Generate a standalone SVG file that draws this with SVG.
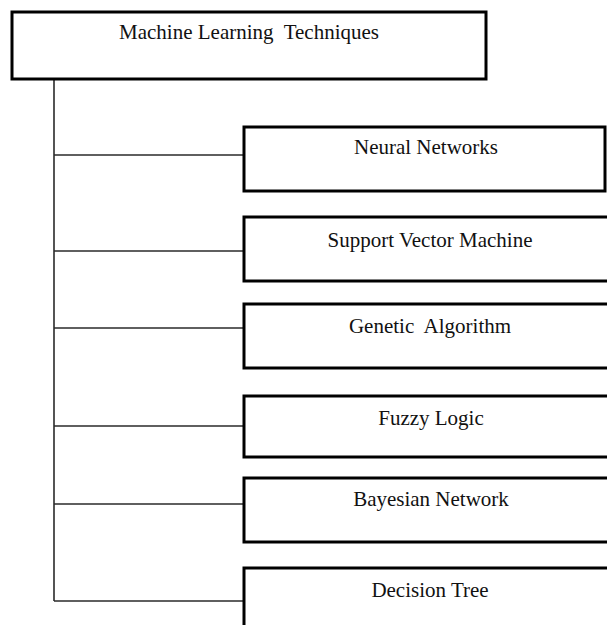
<svg xmlns="http://www.w3.org/2000/svg" width="607" height="625" viewBox="0 0 607 625">
  <style>
    .box { fill: #ffffff; stroke: #000000; stroke-width: 3; }
    .wire { stroke: #2a2a2a; stroke-width: 1.6; fill: none; }
    .label { font-family: "Liberation Serif", "Times New Roman", serif; font-size: 21px; fill: #111111; text-anchor: middle; }
  </style>
  <rect width="607" height="625" fill="#ffffff"/>

  <!-- connectors: trunk from root and one branch per technique -->
  <g id="connectors">
    <line class="wire" x1="54" y1="79" x2="54" y2="601"/>
    <line class="wire" x1="54" y1="155" x2="244" y2="155"/>
    <line class="wire" x1="54" y1="251" x2="244" y2="251"/>
    <line class="wire" x1="54" y1="328" x2="244" y2="328"/>
    <line class="wire" x1="54" y1="426" x2="244" y2="426"/>
    <line class="wire" x1="54" y1="504" x2="244" y2="504"/>
    <line class="wire" x1="54" y1="601" x2="244" y2="601"/>
  </g>

  <g id="root">
    <rect class="box" x="12" y="12" width="474" height="67"/>
    <text class="label" x="249" y="39" xml:space="preserve">Machine Learning  Techniques</text>
  </g>

  <g id="neural-networks">
    <rect class="box" x="244" y="127" width="361" height="64"/>
    <text class="label" x="426" y="154">Neural Networks</text>
  </g>

  <g id="support-vector-machine">
    <rect class="box" x="244" y="217" width="380" height="64"/>
    <text class="label" x="430" y="247">Support Vector Machine</text>
  </g>

  <g id="genetic-algorithm">
    <rect class="box" x="244" y="304" width="380" height="64"/>
    <text class="label" x="430" y="333" xml:space="preserve">Genetic  Algorithm</text>
  </g>

  <g id="fuzzy-logic">
    <rect class="box" x="244" y="396" width="380" height="61"/>
    <text class="label" x="431" y="425">Fuzzy Logic</text>
  </g>

  <g id="bayesian-network">
    <rect class="box" x="244" y="478" width="380" height="64"/>
    <text class="label" x="431" y="506">Bayesian Network</text>
  </g>

  <g id="decision-tree">
    <rect class="box" x="244" y="568" width="380" height="80"/>
    <text class="label" x="430" y="597">Decision Tree</text>
  </g>
</svg>
